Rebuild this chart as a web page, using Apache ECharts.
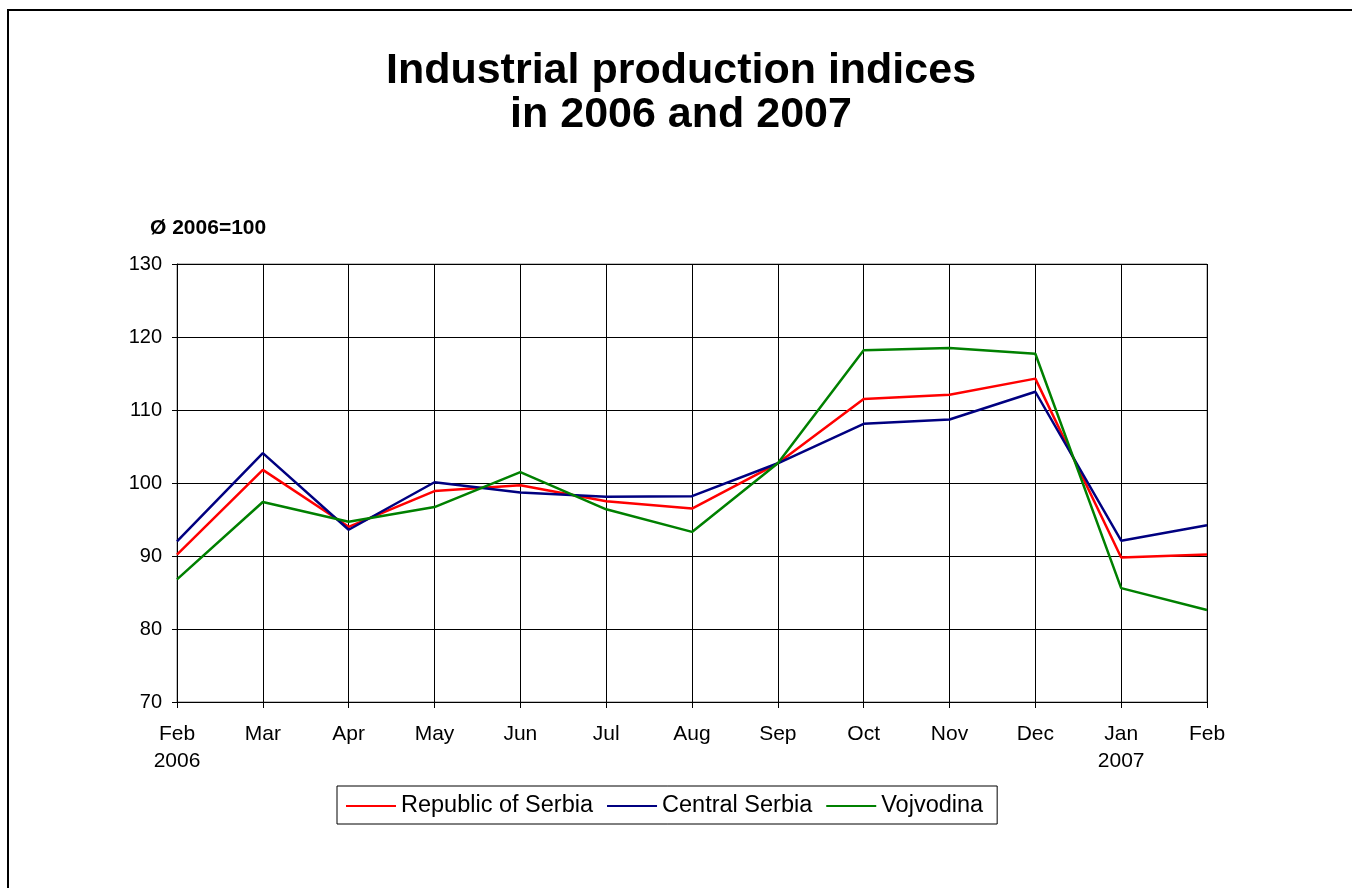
<!DOCTYPE html>
<html>
<head>
<meta charset="utf-8">
<script src="https://cdn.jsdelivr.net/npm/echarts@6/dist/echarts.min.js"></script>
<style>html,body{margin:0;padding:0;background:#fff;}#c{width:1352px;height:888px;}</style>
</head>
<body>
<div id="c"></div>
<script>
const categories = ['Feb\n2006','Mar','Apr','May','Jun','Jul','Aug','Sep','Oct','Nov','Dec','Jan\n2007','Feb'];
const republicOfSerbia = [90.2, 101.8, 94.0, 98.9, 99.7, 97.5, 96.5, 102.7, 111.5, 112.1, 114.3, 89.8, 90.2];
const centralSerbia   = [92.0, 104.1, 93.6, 100.1, 98.7, 98.1, 98.2, 102.7, 108.1, 108.7, 112.5, 92.1, 94.2];
const vojvodina       = [86.8, 97.4, 94.7, 96.7, 101.5, 96.4, 93.3, 102.7, 118.2, 118.5, 117.7, 85.6, 82.6];
const seriesNames = ['Republic of Serbia','Central Serbia','Vojvodina'];
const yTicks = {min:70, max:130, interval:10};

const chart = echarts.init(document.getElementById('c'), null, {renderer:'canvas'});
const font = 'Arial, "Liberation Sans", sans-serif';
const mk = (name, data, color) => ({
  name, type:'line', data, symbol:'none', smooth:false,
  lineStyle:{color, width:2.5}, itemStyle:{color}, animation:false
});
chart.setOption({
  animation:false,
  backgroundColor:'#fff',
  graphic:[
    {type:'rect', shape:{x:8,y:10,width:1400,height:1000}, style:{fill:'none', stroke:'#000', lineWidth:2}, z:-1},
    {type:'text', left:150, top:218, style:{text:'Ø 2006=100', font:'bold 21px ' + font, fill:'#000'}}
  ],
  title:{
    text:'Industrial production indices\nin 2006 and 2007',
    left:676, top:44, textAlign:'center',
    textStyle:{fontFamily:font, fontWeight:'bold', fontSize:43, lineHeight:44, color:'#000'}
  },
  legend:{
    data:seriesNames, left:337, top:786,
    padding:[7,14,5,9], itemGap:14,
    borderColor:'#000', borderWidth:1, borderRadius:0,
    icon:'rect', itemWidth:50, itemHeight:2,
    textStyle:{fontFamily:font, fontSize:23.5, color:'#000', padding:[0,0,0,0], lineHeight:26}
  },
  grid:{left:177, right:145, top:264, bottom:186, show:true, borderColor:'#808080', borderWidth:1},
  xAxis:{
    type:'category', data:categories, boundaryGap:false,
    axisLine:{lineStyle:{color:'#000', width:1}},
    axisTick:{show:true, inside:false, length:6, lineStyle:{color:'#000'}},
    axisLabel:{fontFamily:font, fontSize:21, color:'#000', margin:19, lineHeight:27, interval:0},
    splitLine:{show:true, lineStyle:{color:'#000', width:1}}
  },
  yAxis:{
    type:'value', min:yTicks.min, max:yTicks.max, interval:yTicks.interval,
    axisLine:{show:true, lineStyle:{color:'#000', width:1}},
    axisTick:{show:true, length:5, lineStyle:{color:'#000'}},
    axisLabel:{fontFamily:font, fontSize:20, color:'#000', margin:15},
    splitLine:{show:true, lineStyle:{color:'#000', width:1}}
  },
  series:[
    mk(seriesNames[0], republicOfSerbia, '#ff0000'),
    mk(seriesNames[1], centralSerbia, '#000080'),
    mk(seriesNames[2], vojvodina, '#008000')
  ]
});
</script>
</body>
</html>
